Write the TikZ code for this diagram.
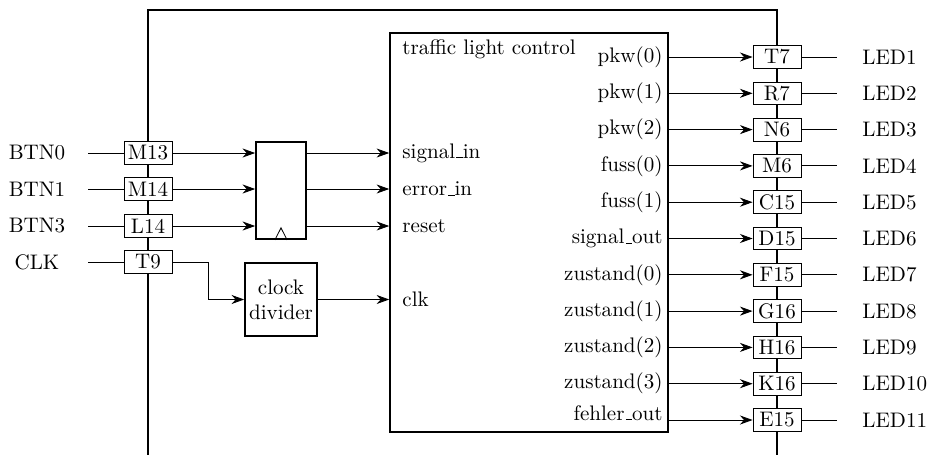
\documentclass[tikz,border=0pt]{standalone}
\usetikzlibrary{arrows.meta}
\newcommand\myus{\leavevmode\kern.06em\vbox{\hrule width.3em}}
\begin{document}
\begin{tikzpicture}[x=0.475pt,y=-0.475pt,
  pin/.style={draw, fill=white, thin, inner sep=0pt, minimum width=22.8pt, minimum height=10.8pt},
  blk/.style={draw, thick, fill=white, inner sep=0pt},
  arr/.style={thin, -{Stealth[length=6pt,width=4.3pt]}},
  conn/.style={thin},
  frm/.style={thick},
  inlbl/.style={anchor=west, inner sep=0pt},
  outlbl/.style={anchor=east, inner sep=0pt},
  ledlbl/.style={anchor=west, inner sep=0pt}]
\useasboundingbox (0,0) rectangle (930,454);
% outer frame
\coordinate (fbl) at (148,456);
\coordinate (ftl) at (148,10);
\coordinate (ftr) at (777,10);
\coordinate (fbr) at (777,456);
\draw[frm] (fbl) -- (ftl) -- (ftr) -- (fbr);
% left pins
\foreach \nm/\pn/\lb/\yy in {m13/M13/BTN0/153, m14/M14/BTN1/189, l14/L14/BTN3/226, t9/T9/CLK/262}{
  \node[pin] (\nm) at (148,\yy) {\pn};
  \node (lb\nm) at (37,\yy) {\lb};
  \coordinate (c\nm) at (88,\yy);
  \draw[conn] (c\nm) -- (\nm);
}
% register
\node[blk, minimum width=23.75pt, minimum height=46.1pt] (reg) at (281,190.5) {};
\draw[thin] ([xshift=-2.9pt]reg.south) -- ([yshift=5.7pt]reg.south) -- ([xshift=2.9pt]reg.south);
% clock divider
\node[blk, minimum width=34.2pt, minimum height=34.7pt, align=center] (div) at (281,299.5) {clock\\divider};
% control
\node[blk, minimum width=132pt, minimum height=189.5pt] (ctrl) at (529,232.5) {};
\node[anchor=base west, inner sep=0pt] (title) at (402,54) {traffic light control};
\foreach \nm in {m13,m14,l14}{
  \draw[arr] (\nm) -- (\nm -| reg.west);
  \draw[arr] (reg.east |- \nm) -- (ctrl.west |- \nm);
}
\coordinate (bend) at (208,262);
\draw[arr] (t9.east) -- (bend) |- (div.west);
\draw[arr] (div) -- (div -| ctrl.west);
\node[inlbl] (sin) at (402,153) {signal\myus in};
\node[inlbl] (ein) at (402,189) {error\myus in};
\node[inlbl] (rin) at (402,226) {reset};
\node[inlbl] (cin) at (402,299) {clk};
% right pins
\foreach \pn/\sg/\ld [count=\i from 0] in {T7/pkw(0)/LED1, R7/pkw(1)/LED2, N6/pkw(2)/LED3, M6/fuss(0)/LED4, C15/fuss(1)/LED5, D15/signal\myus out/LED6, F15/zustand(0)/LED7, G16/zustand(1)/LED8, H16/zustand(2)/LED9, K16/zustand(3)/LED10, E15/fehler\myus out/LED11}{
  \pgfmathsetmacro{\yy}{57+36.3*\i}
  \node[pin] (p\i) at (777,\yy) {\pn};
  \ifnum\i<10
    \node[outlbl] (s\i) at (663,\yy) {\sg};
  \else
    \node[outlbl] (s\i) at (663,\yy-7) {\sg};
  \fi
  \draw[arr] (ctrl.east |- p\i) -- (p\i);
  \coordinate (e\i) at (837,\yy);
  \draw[conn] (p\i) -- (e\i);
  \node[ledlbl] (l\i) at (862,\yy) {\ld};
}
\end{tikzpicture}
\end{document}
